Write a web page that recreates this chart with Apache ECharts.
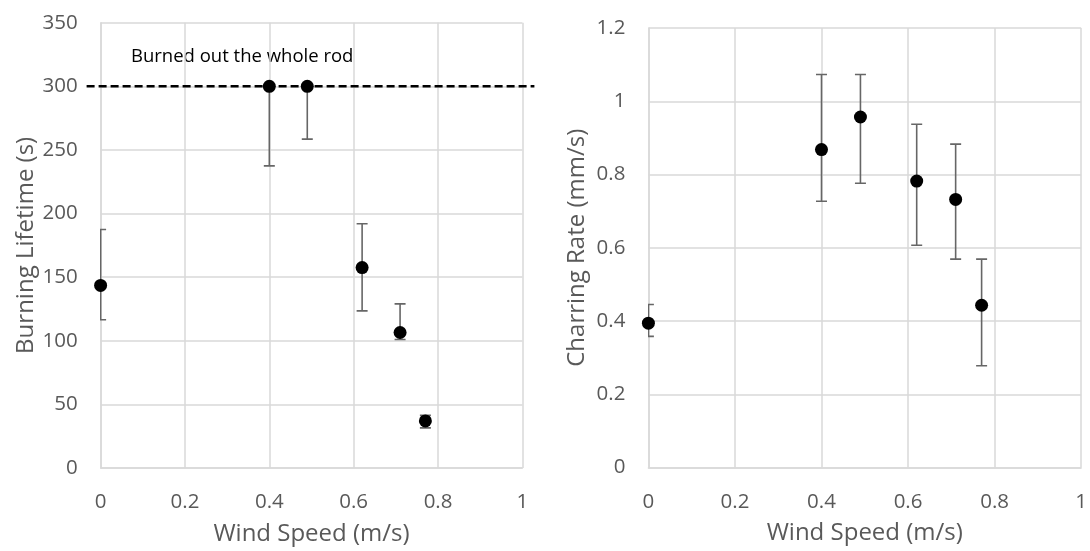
<!DOCTYPE html>
<html><head><meta charset="utf-8">
<script src="https://cdn.jsdelivr.net/npm/echarts@6/dist/echarts.min.js"></script>
<style>html,body{margin:0;padding:0;background:#fff}#c{width:1090px;height:551px}</style>
</head><body><div id="c"></div>
<script>
const windSpeed = [0, 0.4, 0.49, 0.62, 0.71, 0.77];
const lifetime = [143.5, 300, 300, 157.5, 106.5, 37];
const lifetimeLow = [116.5, 237.5, 258.5, 123.5, 101, 31.5];
const lifetimeHigh = [187.5, 300, 300, 192, 129, 41.5];
const charRate = [0.394, 0.868, 0.957, 0.782, 0.732, 0.443];
const charLow = [0.358, 0.727, 0.776, 0.607, 0.569, 0.278];
const charHigh = [0.445, 1.073, 1.073, 0.937, 0.883, 0.569];
const burnoutLimit = 300;
const burnoutText = 'Burned out the whole rod';

const FONT = 'Open Sans';
const LABEL = '#595959';
const GRID = '#d9d9d9';

function errData(xs, ys, lo, hi) {
  return xs.map((x, i) => [x, lo[i], hi[i], ys[i]]);
}
function errorItem(params, api) {
  const x = api.value(0), lo = api.value(1), hi = api.value(2), m = api.value(3);
  const pLo = api.coord([x, lo]), pHi = api.coord([x, hi]);
  const hw = 5.5;
  const style = { stroke: '#666666', lineWidth: 1.6 };
  const ch = [{ type: 'line', shape: { x1: pLo[0], y1: pLo[1], x2: pHi[0], y2: pHi[1] }, style }];
  if (lo < m) ch.push({ type: 'line', shape: { x1: pLo[0] - hw, y1: pLo[1], x2: pLo[0] + hw, y2: pLo[1] }, style });
  if (hi > m) ch.push({ type: 'line', shape: { x1: pHi[0] - hw, y1: pHi[1], x2: pHi[0] + hw, y2: pHi[1] }, style });
  return { type: 'group', children: ch };
}
function limitItem(params, api) {
  const v = api.value(0);
  const a = api.coord([0, v]), b = api.coord([1, v]);
  return { type: 'line', shape: { x1: a[0] - 14, y1: a[1], x2: b[0] + 12, y2: b[1] },
    style: { stroke: '#000', lineWidth: 2.4, lineDash: [8, 4] } };
}

function xAxisCfg(idx) {
  return {
    gridIndex: idx, type: 'value', min: 0, max: 1, interval: 0.2,
    name: 'Wind Speed (m/s)', nameLocation: 'middle', nameGap: 54,
    nameTextStyle: { color: LABEL, fontFamily: FONT, fontSize: 24 },
    axisLine: { show: true, lineStyle: { color: GRID, width: 1.5 } },
    axisTick: { show: false },
    axisLabel: { color: LABEL, fontFamily: FONT, fontSize: 20.5, margin: 24, showMaxLabel: true },
    splitLine: { show: true, lineStyle: { color: GRID, width: 1.5 } }
  };
}

const chart = echarts.init(document.getElementById('c'));
chart.setOption({
  animation: false,
  backgroundColor: '#fff',
  grid: [
    { left: 100.6, top: 22.7, width: 421.8, height: 448 },
    { left: 648.4, top: 28, width: 436.4, height: 439.5 }
  ],
  xAxis: [xAxisCfg(0), xAxisCfg(1)],
  yAxis: [
    { gridIndex: 0, type: 'value', min: 0, max: 350, interval: 50,
      name: 'Burning Lifetime (s)', nameLocation: 'middle', nameGap: 61,
      nameTextStyle: { color: LABEL, fontFamily: FONT, fontSize: 24 },
      axisLine: { show: true, lineStyle: { color: GRID, width: 1.5 } },
      axisTick: { show: false },
      axisLabel: { color: LABEL, fontFamily: FONT, fontSize: 20.5, margin: 23 },
      splitLine: { show: true, lineStyle: { color: GRID, width: 1.5 } } },
    { gridIndex: 1, type: 'value', min: 0, max: 1.2, interval: 0.2,
      name: 'Charring Rate (mm/s)', nameLocation: 'middle', nameGap: 59,
      nameTextStyle: { color: LABEL, fontFamily: FONT, fontSize: 24 },
      axisLine: { show: true, lineStyle: { color: GRID, width: 1.5 } },
      axisTick: { show: false },
      axisLabel: { color: LABEL, fontFamily: FONT, fontSize: 20.5, margin: 23 },
      splitLine: { show: true, lineStyle: { color: GRID, width: 1.5 } } }
  ],
  graphic: [
    { type: 'text', left: 131, top: 47, style: { text: burnoutText, fontFamily: FONT, fontSize: 18.5, fill: '#000' } }
  ],
  series: [
    { type: 'custom', xAxisIndex: 0, yAxisIndex: 0, renderItem: limitItem, clip: false, data: [[burnoutLimit]], z: 3, silent: true },
    { type: 'custom', xAxisIndex: 0, yAxisIndex: 0, renderItem: errorItem, clip: true,
      data: errData(windSpeed, lifetime, lifetimeLow, lifetimeHigh), z: 4, silent: true },
    { type: 'scatter', xAxisIndex: 0, yAxisIndex: 0, symbolSize: 13, clip: false,
      itemStyle: { color: '#000', opacity: 1 }, data: windSpeed.map((x, i) => [x, lifetime[i]]), z: 5 },
    { type: 'custom', xAxisIndex: 1, yAxisIndex: 1, renderItem: errorItem, clip: true,
      data: errData(windSpeed, charRate, charLow, charHigh), z: 4, silent: true },
    { type: 'scatter', xAxisIndex: 1, yAxisIndex: 1, symbolSize: 13, clip: false,
      itemStyle: { color: '#000', opacity: 1 }, data: windSpeed.map((x, i) => [x, charRate[i]]), z: 5 }
  ]
});
</script></body></html>
